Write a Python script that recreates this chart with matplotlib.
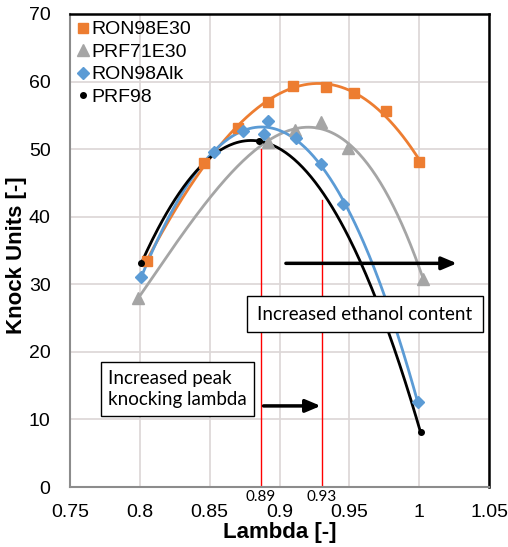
import matplotlib.pyplot as plt
from matplotlib.patches import Rectangle
import numpy as np

plt.rcParams['font.family'] = ['Liberation Sans', 'DejaVu Sans']

# data
lam_e30 = [0.805, 0.846, 0.870, 0.892, 0.910, 0.933, 0.953, 0.976, 1.000]
ku_e30 = [33.4, 48.0, 53.2, 57.0, 59.4, 59.2, 58.3, 55.6, 48.1]

lam_prf71 = [0.799, 0.892, 0.911, 0.930, 0.949, 1.003]
ku_prf71 = [28.0, 51.1, 52.8, 54.0, 50.2, 30.8]

lam_alk = [0.801, 0.853, 0.874, 0.889, 0.892, 0.912, 0.930, 0.9455, 0.999]
ku_alk = [31.1, 49.6, 52.7, 52.3, 54.1, 51.7, 47.8, 41.9, 12.6]

lam_prf98 = [0.801, 0.885, 1.001]
ku_prf98 = [33.1, 51.2, 8.1]

peak_lams = [0.8866, 0.9305]
peak_tops = [50.0, 42.5]
peak_labels = ["0.89", "0.93"]

orange = "#ED7D31"
grey = "#A5A5A5"
blue = "#5B9BD5"
note_font = ["Lato", "DejaVu Sans"]

fig = plt.figure(figsize=(5.08, 5.47), dpi=100)
ax = fig.add_axes([70/508, 1-487/547, 419/508, 473/547])


def trend(x, y, deg, color, lw=2):
    c = np.polyfit(x, y, deg)
    xs = np.linspace(min(x), max(x), 200)
    ax.plot(xs, np.polyval(c, xs), color=color, lw=lw, zorder=3)


trend(lam_e30, ku_e30, 3, orange)
trend(lam_prf71, ku_prf71, 3, grey)
trend(lam_alk, ku_alk, 3, blue)
trend(lam_prf98, ku_prf98, 2, "black")

ax.plot(lam_e30, ku_e30, "s", color=orange, ms=7, label="RON98E30", zorder=4)
ax.plot(lam_prf71, ku_prf71, "^", color=grey, ms=8, label="PRF71E30", zorder=4)
ax.plot(lam_alk, ku_alk, "D", color=blue, ms=6.5, label="RON98Alk", zorder=4)
ax.plot(lam_prf98, ku_prf98, "o", color="black", ms=4, label="PRF98", zorder=4)

# peak markers
for xl, top, lab in zip(peak_lams, peak_tops, peak_labels):
    ax.plot([xl, xl], [0, top], color="red", lw=1, zorder=2)
    ax.text(xl, -0.5, lab, ha="center", va="top", fontsize=11, family=note_font)

# annotations
ax.annotate("", xy=(1.029, 33.1), xytext=(0.9026, 33.1),
            arrowprops=dict(arrowstyle="-|>,head_length=0.9,head_width=0.38",
                            color="black", lw=2.5), zorder=5)
ax.add_patch(Rectangle((0.8767, 22.94), 1.0457 - 0.8767, 28.27 - 22.94,
                       fc="white", ec="black", lw=1, zorder=6))
ax.text(0.9612, 25.6, "Increased ethanol content", ha="center", va="center",
        fontsize=13.5, family=note_font, zorder=7)

ax.annotate("", xy=(0.9315, 12.0), xytext=(0.8866, 12.0),
            arrowprops=dict(arrowstyle="-|>,head_length=0.9,head_width=0.38",
                            color="black", lw=2.5), zorder=5)
ax.text(0.827, 14.5, "Increased peak\nknocking lambda", ha="center", va="center",
        fontsize=13.5, family=note_font, zorder=6, linespacing=1.3,
        multialignment="left",
        bbox=dict(boxstyle="square,pad=0.4", fc="white", ec="black", lw=1))

ax.set_xlim(0.75, 1.05)
ax.set_ylim(0, 70)
ax.set_xticks(np.arange(0.75, 1.051, 0.05))
ax.set_xticklabels(["0.75", "0.8", "0.85", "0.9", "0.95", "1", "1.05"])
ax.set_yticks(range(0, 71, 10))
ax.tick_params(length=0, labelsize=14)
ax.tick_params(axis="x", pad=12)
ax.tick_params(axis="y", pad=14)
ax.grid(color="#dcd6d6", lw=1.2)
ax.set_axisbelow(True)
for s in ["top", "right"]:
    ax.spines[s].set_color("black")
    ax.spines[s].set_linewidth(1.8)
for s in ["left", "bottom"]:
    ax.spines[s].set_color("#8c8c8c")
    ax.spines[s].set_linewidth(1.5)

ax.set_xlabel("Lambda [-]", fontsize=16, fontweight="bold")
ax.set_ylabel("Knock Units [-]", fontsize=16, fontweight="bold")
ax.xaxis.set_label_coords(0.5, -0.074)
ax.yaxis.set_label_coords(-0.103, 0.49)

ax.legend(loc="upper left", frameon=False, fontsize=14, handlelength=0.6,
          handletextpad=0.15, borderaxespad=0.1, labelspacing=0.25,
          borderpad=0.25)

plt.savefig("out.png", dpi=100)
